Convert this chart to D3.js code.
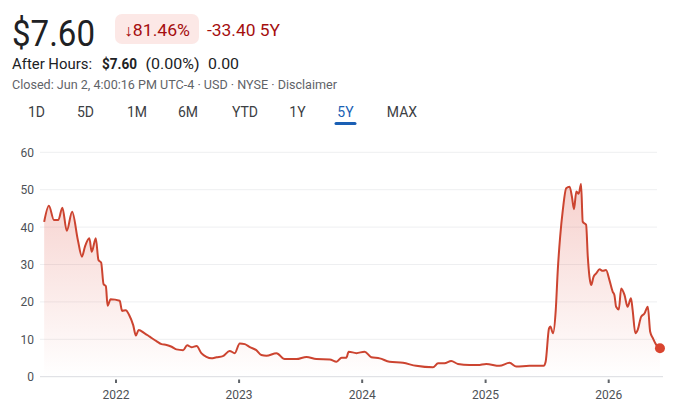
<!DOCTYPE html>
<html>
<head>
<meta charset="utf-8">
<script src="https://cdn.jsdelivr.net/npm/d3@7"></script>
<style>
  html, body { margin: 0; padding: 0; background: #fff; }
  svg { display: block; font-family: Roboto, "Noto Sans", Arial, sans-serif; }
</style>
</head>
<body>
<svg id="chart" width="681" height="414"></svg>
<script>
// ---------- data ----------
const dates = [
  "2021-06-02","2021-06-16","2021-07-01","2021-07-14","2021-07-26","2021-08-08","2021-08-24",
  "2021-09-10","2021-09-22","2021-10-01","2021-10-14","2021-10-21","2021-11-02","2021-11-10",
  "2021-11-18","2021-11-25","2021-12-02","2021-12-07","2021-12-16","2022-01-12","2022-01-19",
  "2022-01-30","2022-02-09","2022-02-21","2022-03-01","2022-03-09","2022-03-27","2022-04-11",
  "2022-05-01","2022-05-16","2022-05-31","2022-06-15","2022-06-29","2022-07-19","2022-07-31",
  "2022-08-13","2022-08-28","2022-09-11","2022-09-26","2022-10-11","2022-10-26","2022-11-14",
  "2022-12-04","2022-12-19","2023-01-03","2023-01-18","2023-02-02","2023-02-21","2023-03-08",
  "2023-03-23","2023-04-22","2023-05-16","2023-06-20","2023-07-20","2023-08-18","2023-09-27",
  "2023-10-17","2023-11-01","2023-11-15","2023-11-22","2023-12-15","2024-01-08","2024-01-28",
  "2024-02-22","2024-03-22","2024-05-01","2024-06-09","2024-07-29","2024-08-13","2024-09-01",
  "2024-09-21","2024-10-11","2024-11-14","2024-12-09","2025-01-03","2025-02-11","2025-03-13",
  "2025-04-02","2025-05-11","2025-06-22","2025-06-28","2025-07-08","2025-07-12","2025-07-20",
  "2025-07-28","2025-08-03","2025-08-10","2025-08-18","2025-08-28","2025-09-07","2025-09-14",
  "2025-09-20","2025-09-27","2025-10-04","2025-10-11","2025-10-16","2025-10-26","2025-10-31",
  "2025-11-05","2025-11-10","2025-11-17","2025-11-25","2025-12-05","2025-12-14","2025-12-24",
  "2026-01-03","2026-01-13","2026-01-18","2026-01-23","2026-01-31","2026-02-07","2026-02-17",
  "2026-02-26","2026-03-08","2026-03-13","2026-03-21","2026-03-28","2026-04-07","2026-04-17",
  "2026-04-27","2026-05-04","2026-05-12","2026-05-22","2026-06-02"
];
const prices = [
  41.4,45.7,41.9,41.9,45.2,39.0,44.1,
  36.5,32.1,34.8,37.0,33.4,37.0,31.2,
  30.5,24.8,24.2,19.0,20.7,20.3,17.6,
  17.8,16.5,13.8,11.0,12.5,11.6,10.7,
  9.5,8.7,8.5,8.0,7.3,7.1,8.4,
  7.9,8.2,6.3,5.3,4.9,5.2,5.5,
  6.9,6.3,8.9,8.7,7.9,7.1,5.8,
  5.6,6.3,4.7,4.7,5.3,4.7,4.6,
  4.0,5.1,5.1,6.7,6.3,6.7,5.2,
  4.9,4.0,3.7,2.9,2.5,3.6,3.6,
  4.2,3.4,3.1,3.1,3.4,2.9,3.7,
  2.7,2.9,2.9,4.0,12.9,13.4,11.6,
  17.8,28.5,37.4,44.6,50.4,50.8,48.1,
  44.8,49.5,48.9,51.5,41.4,40.6,32.1,
  26.7,24.5,26.7,27.6,28.7,28.3,28.5,
  25.9,22.7,21.8,18.7,18.0,23.6,21.8,
  18.7,21.0,17.8,11.6,12.5,16.0,16.9,
  18.7,12.0,10.3,8.5,7.60
];
const yTicks = [0, 10, 20, 30, 40, 50, 60];
const xTickYears = ["2022", "2023", "2024", "2025", "2026"];
const tabs = ["1D", "5D", "1M", "6M", "YTD", "1Y", "5Y", "MAX"];
const activeTab = "5Y";
const header = {
  price: "$7.60", pct: "81.46%", change: "-33.40 5Y",
  afterLabel: "After Hours:", afterPrice: "$7.60", afterPct: "(0.00%)", afterChg: "0.00",
  closed: "Closed: Jun 2, 4:00:16 PM UTC-4 · USD · NYSE · Disclaimer"
};

// ---------- drawing ----------
const parse = d3.timeParse("%Y-%m-%d");
const data = dates.map((d, i) => ({ date: parse(d), v: prices[i] }));

const svg = d3.select("#chart");

// header
svg.append("text").attr("x", 12).attr("y", 45.5)
  .attr("font-size", 37.5).attr("fill", "#202124")
  .attr("textLength", 83).attr("lengthAdjust", "spacingAndGlyphs")
  .text(header.price);

svg.append("rect").attr("x", 115).attr("y", 14).attr("width", 84).attr("height", 30)
  .attr("rx", 7).attr("fill", "#fce8e6");
svg.append("text").attr("x", 124).attr("y", 35.5)
  .attr("font-size", 16).attr("fill", "#a50e0e")
  .attr("textLength", 66).attr("lengthAdjust", "spacingAndGlyphs")
  .text("↓" + header.pct);
svg.append("text").attr("x", 207).attr("y", 35.5)
  .attr("font-size", 16).attr("fill", "#a50e0e")
  .attr("textLength", 73).attr("lengthAdjust", "spacingAndGlyphs")
  .text(header.change);

const ahY = 68.5;
svg.append("text").attr("x", 12).attr("y", ahY).attr("font-size", 15)
  .attr("fill", "#202124").attr("textLength", 80).attr("lengthAdjust", "spacingAndGlyphs")
  .text(header.afterLabel);
svg.append("text").attr("x", 102).attr("y", ahY).attr("font-size", 15)
  .attr("font-weight", "bold").attr("fill", "#202124")
  .attr("textLength", 35).attr("lengthAdjust", "spacingAndGlyphs")
  .text(header.afterPrice);
svg.append("text").attr("x", 145.5).attr("y", ahY).attr("font-size", 15)
  .attr("fill", "#202124").attr("textLength", 54).attr("lengthAdjust", "spacingAndGlyphs")
  .text(header.afterPct);
svg.append("text").attr("x", 208).attr("y", ahY).attr("font-size", 15)
  .attr("fill", "#202124").attr("textLength", 31).attr("lengthAdjust", "spacingAndGlyphs")
  .text(header.afterChg);

svg.append("text").attr("x", 12).attr("y", 88.5)
  .attr("font-size", 12.5).attr("fill", "#5f6368")
  .attr("textLength", 325).attr("lengthAdjust", "spacingAndGlyphs")
  .text(header.closed);

const tabCenters = [36.5, 85.5, 137, 188, 245, 297.5, 345.5, 402];
tabs.forEach((t, i) => {
  svg.append("text").attr("x", tabCenters[i]).attr("y", 117)
    .attr("text-anchor", "middle").attr("font-size", 14)
    .attr("fill", t === activeTab ? "#1a5fb4" : "#3c4043").text(t);
});
const ai = tabs.indexOf(activeTab);
svg.append("rect").attr("x", tabCenters[ai] - 11).attr("y", 122)
  .attr("width", 22).attr("height", 3).attr("rx", 1.5).attr("fill", "#1a5fb4");

// chart
const x = d3.scaleTime()
  .domain([parse("2022-01-01"), parse("2026-01-01")])
  .range([116, 608.7]);
const y = d3.scaleLinear().domain([0, 60]).range([376.7, 152.3]);

const gridG = svg.append("g");
yTicks.forEach(t => {
  if (t === 0) return;
  gridG.append("line").attr("x1", 40).attr("x2", 657)
    .attr("y1", y(t)).attr("y2", y(t))
    .attr("stroke", "#eeeff1").attr("stroke-width", 1);
});
gridG.append("line").attr("x1", 40).attr("x2", 663)
  .attr("y1", y(0)).attr("y2", y(0))
  .attr("stroke", "#dadce0").attr("stroke-width", 1);

yTicks.forEach(t => {
  svg.append("text").attr("x", 34).attr("y", y(t) + 4.5)
    .attr("text-anchor", "end").attr("font-size", 12)
    .attr("fill", "#4d5156").text(t);
});

xTickYears.forEach(yr => {
  const xx = x(parse(yr + "-01-01"));
  svg.append("rect").attr("x", xx - 1).attr("y", 379.5).attr("width", 2).attr("height", 3.5)
    .attr("fill", "#5f6368");
  svg.append("text").attr("x", xx).attr("y", 399)
    .attr("text-anchor", "middle").attr("font-size", 12)
    .attr("fill", "#4d5156").text(yr);
});

const defs = svg.append("defs");
const grad = defs.append("linearGradient").attr("id", "areaGrad")
  .attr("gradientUnits", "userSpaceOnUse")
  .attr("x1", 0).attr("x2", 0).attr("y1", y(52)).attr("y2", y(0));
grad.append("stop").attr("offset", "0%").attr("stop-color", "#e0584a").attr("stop-opacity", 0.28);
grad.append("stop").attr("offset", "100%").attr("stop-color", "#e0584a").attr("stop-opacity", 0.0);

const area = d3.area()
  .x(d => x(d.date)).y0(y(0)).y1(d => y(d.v))
  .curve(d3.curveMonotoneX);
const line = d3.line()
  .x(d => x(d.date)).y(d => y(d.v))
  .curve(d3.curveMonotoneX);

svg.append("path").datum(data).attr("d", area).attr("fill", "url(#areaGrad)");
svg.append("path").datum(data).attr("d", line)
  .attr("fill", "none").attr("stroke", "#cc4430").attr("stroke-width", 2)
  .attr("stroke-linejoin", "round");

const last = data[data.length - 1];
svg.append("circle").attr("cx", x(last.date)).attr("cy", y(last.v)).attr("r", 5)
  .attr("fill", "#d9442f");
</script>
</body>
</html>
